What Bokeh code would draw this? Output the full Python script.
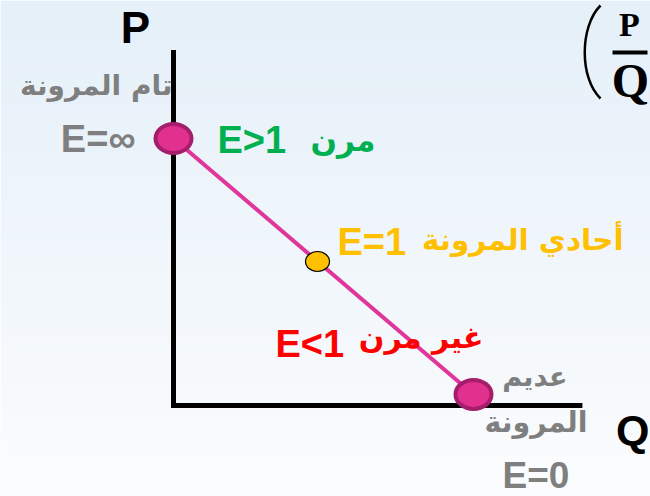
import numpy as np
from bokeh.plotting import figure
from bokeh.core.properties import value
from bokeh.embed import file_html
from bokeh.resources import INLINE

# Linear demand curve: quantity Q against price P
demand_q = [0.0, 10.0]
demand_p = [8.9, 0.37]

# Points of interest on the curve: perfectly elastic, unit elastic, perfectly inelastic
end_q = [0.0, 10.0]
end_p = [8.9, 0.37]
unit_q = [4.8]
unit_p = [4.8]

# Axis extents
p_axis_top = 11.85
q_axis_end = 13.63

# Plot geometry: 30 px per unit, origin at the axis corner
X0, X1 = -173 / 30, (650 - 173) / 30
Y0, Y1 = -(496 - 405) / 30, 405 / 30


def px(xp, yp):
    """Convert a page position (pixels from top-left) to plot units."""
    return (xp - 173) / 30, (405 - yp) / 30


p = figure(width=650, height=496, x_range=(X0, X1), y_range=(Y0, Y1),
           output_backend="svg", toolbar_location=None, min_border=0)
p.axis.visible = False
p.grid.visible = False
p.outline_line_color = None
p.background_fill_alpha = 0
p.border_fill_color = "#ffffff"

# Pale blue vertical gradient behind the diagram
top = np.array([0xe5, 0xf0, 0xf9])
bot = np.array([0xfc, 0xfd, 0xfe])
n = 200
t = np.linspace(0, 1, n)[:, None]
rgb = (bot * (1 - t) + top * t).astype(np.uint32)
img = (255 << 24) | (rgb[:, 2] << 16) | (rgb[:, 1] << 8) | rgb[:, 0]
img = img.reshape(n, 1)
p.image_rgba(image=[img], x=X0, y=Y0, dw=X1 - X0, dh=Y1 - Y0)

# Axes
p.line([0, 0, q_axis_end], [p_axis_top, 0, 0], line_color="black", line_width=5,
       line_join="miter")

# Demand line
p.line(demand_q, demand_p, line_color="#e0359a", line_width=4)

# End-point markers
p.ellipse(x=end_q, y=end_p, width=36, height=29, width_units="screen",
          height_units="screen", fill_color="#e1308e", line_color="#a51e6c",
          line_width=4)
# Unit-elasticity marker
p.ellipse(x=unit_q, y=unit_p, width=24, height=20, width_units="screen",
          height_units="screen", fill_color="#ffc000", line_color="black",
          line_width=1.2)

LATIN = value("Liberation Sans")
ARABIC = value("DejaVu Sans")
SERIF = value("Liberation Serif")


def label(x, y, txt, color, size, font, align="left", style="bold"):
    # y is the intended baseline; nudge up to compensate the renderer's offset
    p.text(x=[x], y=[y], text=[txt], text_color=color, text_font=font,
           text_font_size=f"{size}px", text_font_style=style,
           text_align=align, text_baseline="alphabetic",
           y_offset=-round(0.36 * size))


GRAY = "#7f7f7f"
GREEN = "#00b050"
ORANGE = "#ffc000"
RED = "#ff0000"

# Axis names
label(*px(135, 43), "P", "black", 44, LATIN, "center")
label(*px(649, 444), "Q", "black", 43, LATIN, "right")

# Perfectly elastic
label(*px(172, 95), "تام المرونة", GRAY, 28, ARABIC, "right")
label(*px(135, 152), "E=∞", GRAY, 38, LATIN, "right")

# Elastic segment
label(*px(217, 153), "E>1", GREEN, 38, LATIN, "left")
label(*px(375, 150), "مرن", GREEN, 31, ARABIC, "right")

# Unit elastic
label(*px(337, 255), "E=1", ORANGE, 38, LATIN, "left")
label(*px(623, 250), "أحادي المرونة", ORANGE, 29.5, ARABIC, "right")

# Inelastic segment
label(*px(275, 357), "E<1", RED, 38, LATIN, "left")
label(*px(483, 348), "غير مرن", RED, 30, ARABIC, "right")

# Perfectly inelastic
label(*px(567, 386), "عديم", GRAY, 27, ARABIC, "right")
label(*px(587, 432), "المرونة", GRAY, 28.5, ARABIC, "right")
label(*px(502, 488), "E=0", GRAY, 37, LATIN, "left")

# Slope fraction P/Q in the corner: bracket, numerator, bar, denominator
bx0, by0 = px(600, 5)
bc0x, bc0y = px(579, 26)
bc1x, bc1y = px(579, 78)
bx1, by1 = px(600, 98)
p.bezier(x0=[bx0], y0=[by0], x1=[bx1], y1=[by1], cx0=[bc0x], cy0=[bc0y],
         cx1=[bc1x], cy1=[bc1y], line_color="black", line_width=2.5)
label(*px(629, 36), "P", "black", 34, SERIF, "center")
sx0, sy0 = px(612, 52)
sx1, sy1 = px(647, 52)
p.segment(x0=[sx0], y0=[sy0], x1=[sx1], y1=[sy1], line_color="black",
          line_width=4)
label(*px(630, 97), "Q", "black", 48, SERIF, "center")

open("out.html", "w").write(file_html(p, INLINE))
